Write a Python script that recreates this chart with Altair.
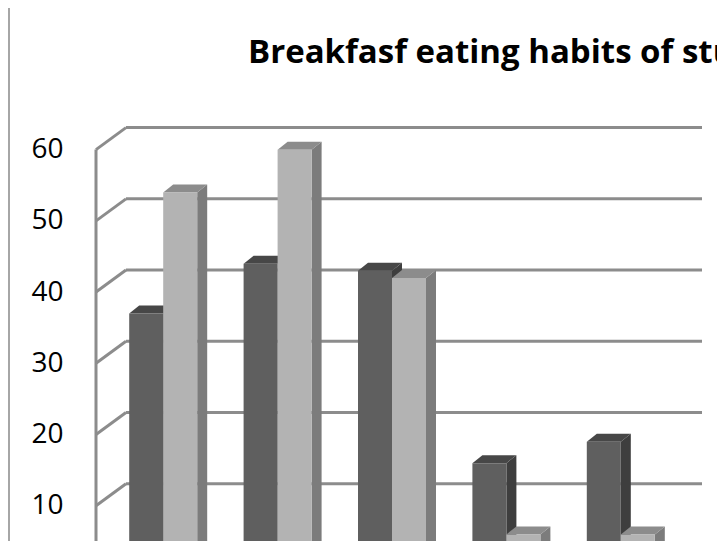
import altair as alt
import pandas as pd

# ---- data ----
CATEGORIES = ["Group 1", "Group 2", "Group 3", "Group 4", "Group 5"]
SERIES = ["Series 1", "Series 2"]
SERIES1 = [36, 43, 42, 15, 18]
SERIES2 = [53, 59, 41, 5, 5]
GRID_VALUES = [0, 10, 20, 30, 40, 50, 60]
LABEL_VALUES = [10, 20, 30, 40, 50, 60]
TITLE = "Breakfasf eating habits of students"

# ---- styles ----
FRONT = {"Series 1": "#5f5f5f", "Series 2": "#b3b3b3"}
TOP = {"Series 1": "#474747", "Series 2": "#8c8c8c"}
SIDE = {"Series 1": "#3e3e3e", "Series 2": "#7c7c7c"}
GRID_COLOR = "#8c8c8c"
FONT = "Open Sans"

# ---- geometry (pixels) ----
PAD_LEFT, PAD_TOP = 98, 99
W = 572
SVG_W, SVG_H = 709, 533
H = SVG_H - PAD_TOP
PX_PER_UNIT = 7.123
Y_MAX = 65
Y_MIN = Y_MAX - H / PX_PER_UNIT
N = len(CATEGORIES)
STEP_PX = W / N
BAR_PX = 34
PAD_PX = (STEP_PX - 2 * BAR_PX) / 2
DX, DY = 10, 8          # bar depth in screen pixels
UX = N / W              # data units per pixel (x)
UY = 1 / PX_PER_UNIT    # data units per pixel (y)

xs = alt.Scale(domain=[0, N], nice=False, zero=False)
ys = alt.Scale(domain=[Y_MIN, Y_MAX], nice=False, zero=False)

front_rows, side_rows, top_rows = [], [], []
for i, cat in enumerate(CATEGORIES):
    for s, (name, vals) in enumerate(zip(SERIES, [SERIES1, SERIES2])):
        v = vals[i]
        xl = i + (PAD_PX + s * BAR_PX) * UX
        xr = xl + BAR_PX * UX
        bid = f"{cat}-{name}"
        front_rows.append(dict(bar=bid, x=xl, x2=xr, y=v, y2=0, fill=FRONT[name]))
        side_rows.append(dict(bar=bid, x=xr, y=v, y2=0, fill=SIDE[name]))
        side_rows.append(dict(bar=bid, x=xr + DX * UX, y=v + DY * UY, y2=DY * UY, fill=SIDE[name]))
        top_rows.append(dict(bar=bid, y=v, x=xl, x2=xr, fill=TOP[name]))
        top_rows.append(dict(bar=bid, y=v + DY * UY, x=xl + DX * UX, x2=xr + DX * UX, fill=TOP[name]))

front_df = pd.DataFrame(front_rows)
side_df = pd.DataFrame(side_rows)
top_df = pd.DataFrame(top_rows)
grid_df = pd.DataFrame({"g": GRID_VALUES, "x0": 0, "x1": N})
axis_df = pd.DataFrame({"top": [max(GRID_VALUES)], "bottom": [0], "x0": [0]})

# back-wall gridlines
grid = alt.Chart(grid_df).mark_rule(
    color=GRID_COLOR, strokeWidth=3, xOffset=20, x2Offset=24, yOffset=-15, y2Offset=-15
).encode(
    x=alt.X("x0:Q", scale=xs, axis=None),
    x2="x1:Q",
    y=alt.Y("g:Q", scale=ys),
    y2="g:Q",
)

# side-wall diagonals
diag = alt.Chart(grid_df).mark_rule(
    color=GRID_COLOR, strokeWidth=3, xOffset=-10, x2Offset=20, yOffset=7, y2Offset=-15
).encode(
    x=alt.X("x0:Q", scale=xs, axis=None),
    x2="x0:Q",
    y=alt.Y("g:Q", scale=ys),
    y2="g:Q",
)

# front vertical edge
edge = alt.Chart(axis_df).mark_rule(
    color=GRID_COLOR, strokeWidth=3, xOffset=-10, x2Offset=-10, yOffset=7, y2Offset=7
).encode(
    x=alt.X("x0:Q", scale=xs, axis=None),
    x2="x0:Q",
    y=alt.Y("top:Q", scale=ys),
    y2="bottom:Q",
)

sides = alt.Chart(side_df).mark_area(orient="vertical").encode(
    x=alt.X("x:Q", scale=xs, axis=None),
    y=alt.Y("y:Q", scale=ys, stack=None),
    y2="y2:Q",
    detail="bar:N",
    color=alt.Color("fill:N", scale=None),
)

tops = alt.Chart(top_df).mark_area(orient="horizontal").encode(
    y=alt.Y("y:Q", scale=ys),
    x=alt.X("x:Q", scale=xs, axis=None, stack=None),
    x2="x2:Q",
    detail="bar:N",
    color=alt.Color("fill:N", scale=None),
)

fronts = alt.Chart(front_df).mark_rect().encode(
    x=alt.X("x:Q", scale=xs, axis=None),
    x2="x2:Q",
    y=alt.Y(
        "y:Q",
        scale=ys,
        axis=alt.Axis(
            values=LABEL_VALUES, title=None, domain=False, ticks=False, tickSize=0,
            grid=False, labelFont=FONT, labelFontSize=28, labelColor="#000000",
            labelPadding=43, labelOffset=7,
        ),
    ),
    y2="y2:Q",
    color=alt.Color("fill:N", scale=None),
)

title = alt.Chart(axis_df).mark_text(
    align="left", baseline="alphabetic", font=FONT, fontSize=33, fontWeight="bold", color="#000000"
).encode(
    x=alt.value(142), y=alt.value(-44), text=alt.value(TITLE)
)

border = alt.Chart(axis_df).mark_rule(color="#a6a6a6", strokeWidth=2).encode(
    x=alt.value(1 - PAD_LEFT), y=alt.value(-PAD_TOP), y2=alt.value(H)
)

chart = alt.layer(border, grid, diag, edge, sides, tops, fronts, title).properties(
    width=W,
    height=H,
    autosize=alt.AutoSizeParams(type="none"),
    padding={"left": PAD_LEFT, "top": PAD_TOP, "right": SVG_W - PAD_LEFT - W, "bottom": 0},
    background="#ffffff",
).configure_view(stroke=None)

chart.save("out.html", embed_options={"renderer": "svg", "actions": False})
